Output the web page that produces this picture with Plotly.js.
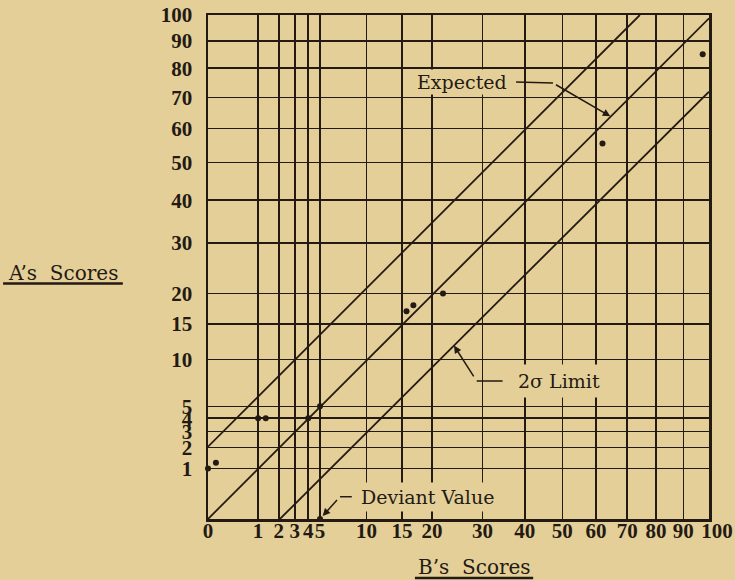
<!DOCTYPE html>
<html>
<head>
<meta charset="utf-8">
<script src="https://cdn.plot.ly/plotly-3.0.1.min.js"></script>
<style>html,body{margin:0;padding:0;background:#e4cf98;}</style>
</head>
<body>
<div id="chart" style="width:735px;height:580px;"></div>
<script>
// Tick values (square-root scaled paper)
const tickB = [0, 1, 2, 3, 4, 5, 10, 15, 20, 30, 40, 50, 60, 70, 80, 90, 100];
const tickBLabels = ["0", "1", "2", "3", "4", "5", "10", "15", "20", "30", "40", "50", "60", "70", "80", "90", "\u00a0\u00a0\u00a0100"];
const tickA = [1, 2, 3, 4, 5, 10, 15, 20, 30, 40, 50, 60, 70, 80, 90, 100];
const tickALabels = ["1", "2", "3", "4", "5", "10", "15", "20", "30", "40", "50", "60", "70", "80", "90", "100"];

// Observed scores
const scoresB = [0, 0.025, 1, 1.33, 4, 5, 15.7, 16.8, 22, 62, 97.5, 5];
const scoresA = [1, 1.25, 4, 4, 4, 5, 17, 18, 20, 55.5, 85, 0];

// Reference lines
const expectedB = [0, 100];
const expectedA = [0, 98.7];
const upperB = [0, 74.3];
const upperA = [2.06, 100];
const lowerB = [2.06, 100];
const lowerA = [0, 71.9];

const sq = v => Math.sqrt(v);
const ink = '#231a13';
const paper = '#e4cf98';

const lineStyle = {color: ink, width: 1.8};
const traces = [
  {x: expectedB.map(sq), y: expectedA.map(sq), mode: 'lines', line: lineStyle, hoverinfo: 'skip', cliponaxis: false},
  {x: upperB.map(sq), y: upperA.map(sq), mode: 'lines', line: lineStyle, hoverinfo: 'skip', cliponaxis: false},
  {x: lowerB.map(sq), y: lowerA.map(sq), mode: 'lines', line: lineStyle, hoverinfo: 'skip', cliponaxis: false},
  {x: scoresB.map(sq), y: scoresA.map(sq), mode: 'markers', marker: {color: ink, size: 6}, cliponaxis: false}
];

const tickFont = {family: 'Liberation Serif', size: 21, color: ink, weight: 'bold'};
const noteFont = {family: 'DejaVu Serif', size: 19, color: ink};
const titleFont = {family: 'DejaVu Serif', size: 20, color: ink};

const axisCommon = {
  range: [0, 10], showgrid: true, gridcolor: ink, gridwidth: 1.5,
  showline: true, mirror: true, linecolor: ink, linewidth: 2.5,
  zeroline: false, ticks: '', tickfont: tickFont, tickangle: 0, fixedrange: true
};

const layout = {
  width: 735, height: 580,
  margin: {l: 208, r: 26, t: 15, b: 61},
  paper_bgcolor: paper, plot_bgcolor: paper,
  showlegend: false,
  xaxis: Object.assign({}, axisCommon, {tickmode: 'array', tickvals: tickB.map(sq), ticktext: tickBLabels, ticklabelstandoff: -9}),
  yaxis: Object.assign({}, axisCommon, {tickmode: 'array', tickvals: tickA.map(sq), ticktext: tickALabels, ticklabelstandoff: 9}),
  shapes: [
    {type: 'path', xref: 'x', yref: 'y', path: 'M 6.15,8.671 L 6.886,8.651', line: {color: ink, width: 1.5}},
    {type: 'path', xref: 'x', yref: 'y', path: 'M 5.88,2.738 L 5.363,2.738', line: {color: ink, width: 1.5}},
    {type: 'path', xref: 'x', yref: 'y', path: 'M 2.87,0.442 L 2.635,0.442', line: {color: ink, width: 1.5}},
    {type: 'line', xref: 'paper', yref: 'paper', x0: -0.409, x1: -0.170, y0: 0.4673, y1: 0.4673, line: {color: ink, width: 2.5}},
    {type: 'line', xref: 'paper', yref: 'paper', x0: 0.413, x1: 0.649, y0: -0.117, y1: -0.117, line: {color: ink, width: 2.5}}
  ],
  annotations: [
    {xref: 'x', yref: 'y', x: 5.06, y: 8.671, text: 'Expected', showarrow: false, font: noteFont, bgcolor: paper, borderpad: 1, xanchor: 'center', yanchor: 'middle'},
    {xref: 'x', yref: 'y', x: 8.03, y: 7.99, axref: 'x', ayref: 'y', ax: 6.886, ay: 8.651, text: ' ', showarrow: true, arrowhead: 2, arrowsize: 1, arrowwidth: 1.5, arrowcolor: ink},
    {xref: 'x', yref: 'y', x: 7.0, y: 2.738, text: '2\u03c3 Limit', showarrow: false, font: noteFont, bgcolor: paper, borderpad: 5, xanchor: 'center', yanchor: 'middle'},
    {xref: 'x', yref: 'y', x: 4.91, y: 3.44, axref: 'x', ayref: 'y', ax: 5.363, ay: 2.738, text: ' ', showarrow: true, arrowhead: 2, arrowsize: 1, arrowwidth: 1.5, arrowcolor: ink},
    {xref: 'x', yref: 'y', x: 4.39, y: 0.442, text: 'Deviant Value', showarrow: false, font: noteFont, bgcolor: paper, borderpad: 3, xanchor: 'center', yanchor: 'middle'},
    {xref: 'x', yref: 'y', x: 2.236, y: 0, axref: 'x', ayref: 'y', ax: 2.635, ay: 0.442, text: ' ', showarrow: true, arrowhead: 2, arrowsize: 1, arrowwidth: 1.5, arrowcolor: ink, standoff: 4},
    {xref: 'paper', yref: 'paper', x: -0.2894, y: 0.488, text: 'A\u2019s\u00a0\u00a0Scores', showarrow: false, font: titleFont, xanchor: 'center', yanchor: 'middle'},
    {xref: 'paper', yref: 'paper', x: 0.531, y: -0.0952, text: 'B\u2019s\u00a0\u00a0Scores', showarrow: false, font: titleFont, xanchor: 'center', yanchor: 'middle'}
  ]
};

Plotly.newPlot('chart', traces, layout, {displayModeBar: false, staticPlot: true});
</script>
</body>
</html>
